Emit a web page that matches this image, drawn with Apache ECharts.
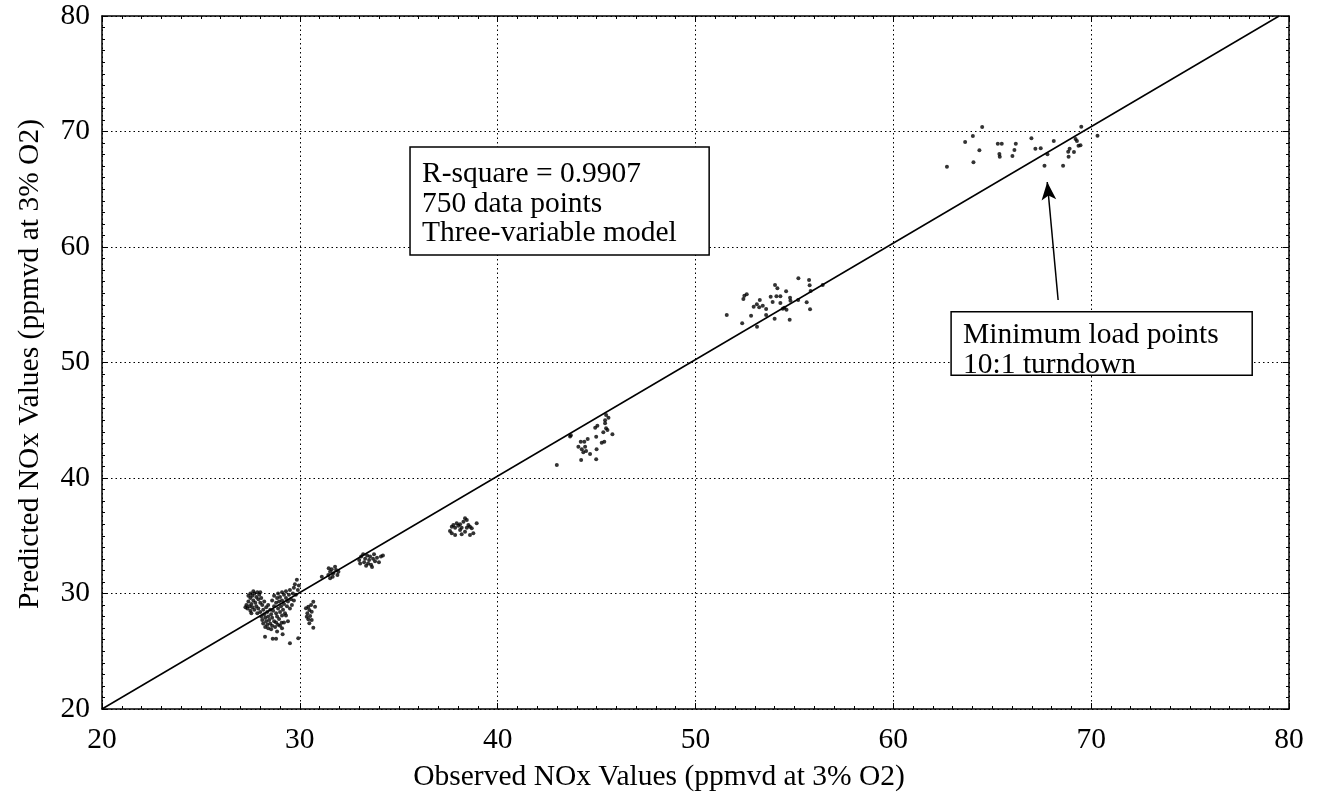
<!DOCTYPE html>
<html>
<head>
<meta charset="utf-8">
<script src="https://cdn.jsdelivr.net/npm/echarts@6/dist/echarts.min.js"></script>
<style>
  html, body { margin: 0; padding: 0; background: #fff; }
  #chart { width: 1318px; height: 807px; }
</style>
</head>
<body>
<div id="chart"></div>
<script>
// observed / predicted NOx pairs
const cluster28 = [
  [27.3,29.0],[27.35,28.7],[27.4,29.3],[27.45,28.9],[27.5,29.6],[27.5,28.5],[27.55,29.1],[27.6,29.8],
  [27.6,28.8],[27.65,29.4],[27.7,30.0],[27.7,28.6],[27.75,29.2],[27.8,29.7],[27.8,28.9],[27.85,30.1],
  [27.85,28.3],[27.9,29.5],[27.9,28.7],[27.95,29.9],[28.0,29.2],[28.0,28.4],[28.05,29.6],[28.05,28.0],
  [28.1,29.0],[28.1,27.7],[27.5,30.0],[27.65,30.2],[28.0,30.1],[27.4,29.8],[27.25,28.8],[27.55,28.3],
  [28.15,28.6],[28.15,27.4],[28.2,29.3],[28.2,28.2],[28.25,27.9],[28.25,27.1],[28.3,28.8],[28.3,27.6],
  [28.35,28.4],[28.35,27.3],[28.4,29.0],[28.4,28.0],[28.4,27.0],[28.45,27.7],[28.5,28.6],[28.5,27.4],
  [28.55,28.2],[28.55,26.9],[28.6,27.9],[28.6,27.2],[28.65,28.5],[28.7,27.6],[28.7,28.9],[28.75,27.1],
  [28.8,28.3],[28.8,27.5],[28.85,28.0],[28.9,27.3],[28.9,28.7],[28.95,27.8],[29.0,27.2],[29.0,28.4],
  [28.6,29.4],[28.7,29.8],[28.8,29.2],[28.85,29.6],[28.9,30.0],[28.95,29.3],[29.0,29.7],[29.05,28.9],
  [29.1,29.4],[29.1,30.1],[29.15,28.6],[29.2,29.9],[29.2,29.1],[29.25,28.3],[29.3,29.6],[29.3,30.2],
  [29.35,28.9],[29.4,29.3],[29.45,29.9],[29.5,28.7],[29.5,30.3],[29.55,29.5],[29.6,29.0],[29.65,30.0],
  [29.7,30.5],[29.7,29.4],[29.75,30.8],[29.8,29.9],[29.85,31.2],[29.9,30.3],[29.95,30.7],[29.3,28.1],
  [29.4,27.6],[29.2,27.5],[29.1,28.1],[28.85,26.7],[29.1,27.0],[29.08,27.47],
  [28.24,26.26],[28.63,26.09],[28.8,26.09],[29.13,26.47],[29.5,25.69],[29.92,26.12]
];
const cluster30 = [
  [30.68,29.29],[30.57,29.0],[30.43,28.86],[30.31,28.72],[30.48,28.57],[30.6,28.43],[30.38,28.29],
  [30.52,28.05],[30.43,27.77],[30.6,27.71],[30.48,27.42],[30.68,27.04],[30.35,27.99],[30.77,28.86]
];
const cluster31 = [
  [31.11,31.46],[31.44,31.6],[31.53,31.89],[31.61,32.09],[31.69,31.75],[31.78,32.32],
  [31.83,32.03],[31.9,31.6],[31.53,31.32],[31.66,31.46],[31.46,32.18],[31.95,31.89]
];
const cluster33 = [
  [33.0,32.9],[33.1,33.2],[33.2,33.4],[33.25,32.7],[33.3,33.0],[33.4,33.3],[33.45,32.6],[33.5,32.9],
  [33.55,33.2],[33.6,32.5],[33.7,33.0],[33.75,33.4],[33.8,32.8],[33.9,33.1],[34.0,32.7],[34.1,33.2],
  [34.2,33.3],[33.35,32.4],[33.65,32.3],[33.05,32.6]
];
const cluster38 = [
  [37.59,35.41],[37.68,35.78],[37.76,35.93],[37.85,35.7],[37.93,36.08],[38.01,35.87],[38.1,35.99],
  [38.18,35.7],[38.27,36.22],[38.35,36.51],[38.44,36.36],[38.52,35.93],[38.6,35.78],[38.69,35.64],
  [38.77,35.21],[38.6,35.06],[38.35,35.35],[38.18,35.13],[37.85,35.06],[38.94,36.08],[38.44,35.7],
  [38.1,35.5],[37.68,35.21]
];
const cluster44 = [
  [42.99,41.13],[43.66,43.6],[43.7,43.7],[44.2,43.14],[44.38,43.14],[44.55,43.38],[44.08,42.71],
  [44.25,42.5],[44.42,42.71],[44.33,42.22],[44.47,42.34],[44.67,42.08],[44.22,41.56],[44.98,41.62],
  [45.0,42.5],[44.98,43.58],[44.93,44.35],[45.04,44.53],[45.26,43.06],[45.39,43.14],[45.34,43.96],
  [45.48,44.3],[45.43,44.74],[45.55,44.16],[45.6,45.22],[45.48,45.45],[45.8,43.78],[45.43,45.0]
];
const cluster54 = [
  [51.58,54.11],[52.36,53.39],[52.42,55.5],[52.47,55.78],[52.59,55.9],[52.81,54.05],[52.94,54.83],
  [53.1,55.04],[53.22,54.78],[53.25,55.41],[53.4,54.92],[53.57,54.63],[53.57,54.11],[53.11,53.1],
  [53.8,55.7],[53.9,55.24],[54.02,56.71],[54.14,56.42],[54.09,55.73],[54.29,55.73],[54.29,55.15],
  [54.58,56.16],[54.78,55.61],[54.8,55.35],[54.49,54.75],[54.6,54.57],[54.41,54.66],[54.0,53.79],
  [54.76,53.71],[55.2,57.29],[55.19,55.41],[55.74,57.14],[55.77,56.68],[55.82,56.19],[55.62,55.21],
  [55.79,54.61],[56.43,56.71]
];
const clusterMinLoad = [
  [62.71,66.95],[63.63,69.09],[64.02,69.61],[64.49,70.39],[64.05,67.33],[64.35,68.37],[65.28,68.94],
  [65.48,68.94],[65.36,68.05],[65.38,67.82],[66.19,68.94],[66.12,68.4],[66.02,67.88],[66.98,69.41],
  [67.18,68.51],[67.45,68.55],[67.64,67.04],[67.79,68.03],[68.11,69.18],[68.58,67.04],[68.84,68.25],
  [68.86,67.82],[68.91,68.51],[69.13,68.23],[69.21,69.35],[69.28,69.18],[69.36,68.77],[69.46,68.8],
  [69.5,70.42],[70.32,69.64]
];
const fitLine = [[20, 20], [79.5, 80]];
const arrowFrom = [68.33, 55.41];
const arrowTo = [67.78, 65.63];
const axisTicks = [20, 30, 40, 50, 60, 70, 80];
const statsLines = ['R-square = 0.9907', '750 data points', 'Three-variable model'];
const minLoadLines = ['Minimum load points', '10:1 turndown'];

const FONT = 'Liberation Serif, Times New Roman, serif';
const allPoints = [].concat(cluster28, cluster30, cluster31, cluster33, cluster38,
  cluster44, cluster54, clusterMinLoad);

const chart = echarts.init(document.getElementById('chart'), null, { renderer: 'canvas' });

function valueAxis(pos, showLabels) {
  return {
    type: 'value',
    position: pos,
    min: axisTicks[0],
    max: axisTicks[axisTicks.length - 1],
    interval: 10,
    axisLine: { show: true, onZero: false, lineStyle: { color: '#000', width: 1.5 } },
    axisTick: { show: true, inside: true, length: 6, lineStyle: { color: '#000', width: 1 } },
    minorTick: { show: true, splitNumber: 10, length: 3, lineStyle: { color: '#000', width: 1 } },
    splitLine: {
      show: showLabels,
      lineStyle: { color: '#000', type: [1.5, 3], width: 1 }
    },
    axisLabel: {
      show: showLabels,
      margin: pos === 'bottom' ? 16 : 12,
      color: '#000',
      fontFamily: FONT,
      fontSize: 29.5
    }
  };
}

chart.setOption({
  backgroundColor: '#fff',
  animation: false,
  grid: { left: 102, right: 29, top: 16, bottom: 98 },
  xAxis: [valueAxis('bottom', true), valueAxis('top', false)],
  yAxis: [valueAxis('left', true), valueAxis('right', false)],
  series: [
    {
      type: 'line',
      data: fitLine,
      symbol: 'none',
      lineStyle: { color: '#000', width: 1.5 },
      z: 3
    },
    {
      type: 'scatter',
      data: allPoints,
      symbol: 'circle',
      symbolSize: 4,
      itemStyle: { color: '#000' },
      z: 4,
      markLine: {
        silent: true,
        animation: false,
        symbol: ['none', 'arrow'],
        symbolSize: [11, 18],
        label: { show: false },
        lineStyle: { color: '#000', width: 1.5, type: 'solid' },
        data: [[{ coord: arrowFrom }, { coord: arrowTo }]]
      }
    }
  ]
});

// text boxes placed in data space, then drawn as graphics
const px = (x, y) => chart.convertToPixel({ gridIndex: 0 }, [x, y]);
function textBox(tl, br, lines, padX, padY) {
  const a = px(tl[0], tl[1]);
  const b = px(br[0], br[1]);
  return [
    {
      type: 'rect',
      shape: { x: a[0], y: a[1], width: b[0] - a[0], height: b[1] - a[1] },
      style: { fill: '#fff', stroke: '#000', lineWidth: 1.5 },
      z: 10
    },
    {
      type: 'text',
      x: a[0] + padX,
      y: a[1] + padY,
      style: {
        text: lines.join('\n'),
        font: '29.5px ' + FONT,
        lineHeight: 29.5,
        fill: '#000'
      },
      z: 11
    }
  ];
}

chart.setOption({
  graphic: [].concat(
    textBox([35.57, 68.66], [50.69, 59.31], statsLines, 12, 13),
    textBox([62.92, 54.4], [78.14, 48.9], minLoadLines, 12, 9),
    [
      {
        type: 'text',
        x: 659,
        y: 777,
        style: {
          text: 'Observed NOx Values (ppmvd at 3% O2)',
          font: '29.5px ' + FONT,
          fill: '#000',
          align: 'center',
          verticalAlign: 'middle'
        }
      },
      {
        type: 'text',
        x: 30,
        y: 364,
        rotation: Math.PI / 2,
        style: {
          text: 'Predicted NOx Values (ppmvd at 3% O2)',
          font: '29.5px ' + FONT,
          fill: '#000',
          align: 'center',
          verticalAlign: 'middle'
        }
      }
    ]
  )
});
</script>
</body>
</html>
